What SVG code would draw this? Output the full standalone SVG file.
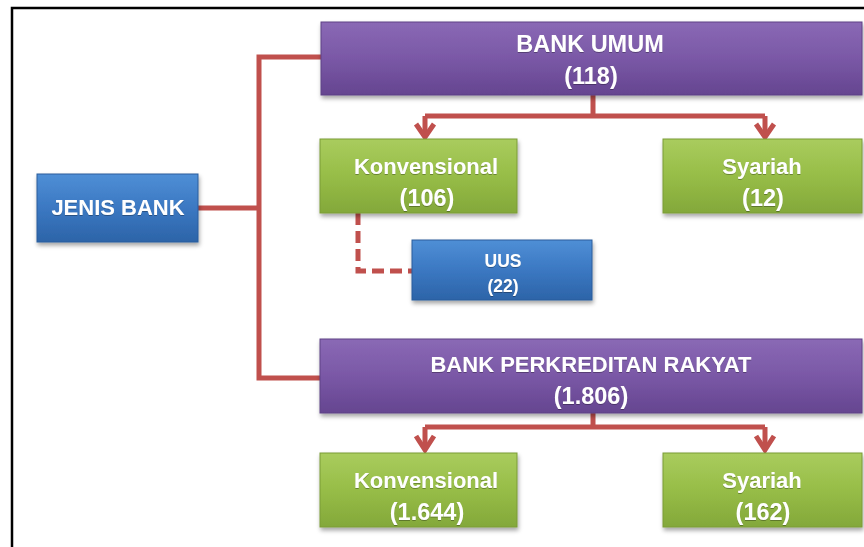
<svg xmlns="http://www.w3.org/2000/svg" width="864" height="547" viewBox="0 0 864 547">
<defs>
<linearGradient id="gPurple" x1="0" y1="0" x2="0" y2="1">
<stop offset="0" stop-color="#8a69b5"/><stop offset="0.5" stop-color="#7a58a6"/><stop offset="1" stop-color="#654590"/>
</linearGradient>
<linearGradient id="gGreen" x1="0" y1="0" x2="0" y2="1">
<stop offset="0" stop-color="#a9cc5e"/><stop offset="0.5" stop-color="#97bd47"/><stop offset="1" stop-color="#83a83a"/>
</linearGradient>
<linearGradient id="gBlue" x1="0" y1="0" x2="0" y2="1">
<stop offset="0" stop-color="#4f8fd6"/><stop offset="0.5" stop-color="#3b78c2"/><stop offset="1" stop-color="#2c64a8"/>
</linearGradient>
<filter id="sh" x="-5%" y="-10%" width="110%" height="130%">
<feDropShadow dx="1" dy="3" stdDeviation="2" flood-color="#000" flood-opacity="0.35"/>
</filter>
<filter id="tsh" x="-5%" y="-20%" width="110%" height="140%">
<feDropShadow dx="0" dy="1" stdDeviation="0.6" flood-color="#000" flood-opacity="0.3"/>
</filter>
</defs>
<style>
.purple{fill:url(#gPurple);stroke:#5e4285;stroke-width:1;filter:url(#sh)}
.green{fill:url(#gGreen);stroke:#7a9c36;stroke-width:1;filter:url(#sh)}
.blue{fill:url(#gBlue);stroke:#2a5d9c;stroke-width:1;filter:url(#sh)}
.t{font-family:"Liberation Sans",Arial,sans-serif;font-weight:bold;fill:#ffffff;text-anchor:middle;filter:url(#tsh)}
.big{font-size:22px}
.num{font-size:23.5px}
.small{font-size:17.5px}
.line{fill:none;stroke:#c0504d;stroke-width:5}
.dash{fill:none;stroke:#c0504d;stroke-width:5;stroke-dasharray:12,6}
.head{fill:none;stroke:#c0504d;stroke-width:5;stroke-linejoin:miter}
</style>
<rect x="0" y="0" width="864" height="547" fill="#ffffff"/>
<path d="M12,547 V8 H864" fill="none" stroke="#000" stroke-width="2.5"/>

<g id="connectors">
<path class="line" d="M198,208 H259 M321,57 H259 V378 H321"/>
<path class="line" d="M593,95 V116 M425,116 H765 M425,116 V136 M765,116 V136"/>
<path class="line" d="M593,413 V427 M425,427 H765 M425,427 V450 M765,427 V450"/>
<path class="head" d="M416,124 L425,137 L434,124 M756,124 L765,137 L774,124"/>
<path class="head" d="M416,436 L425,450 L434,436 M756,436 L765,450 L774,436"/>
<path class="dash" d="M358,213 V271 H412"/>
</g>

<g id="bank-umum">
<rect class="purple" x="321" y="22" width="541" height="73"/>
<text class="t num" x="590" y="52">BANK UMUM</text>
<text class="t num" x="591" y="84">(118)</text>
</g>
<g id="bu-konvensional">
<rect class="green" x="320" y="139" width="197" height="74"/>
<text class="t big" x="426" y="174">Konvensional</text>
<text class="t num" x="427" y="206">(106)</text>
</g>
<g id="bu-syariah">
<rect class="green" x="663" y="139" width="199" height="74"/>
<text class="t big" x="762" y="174">Syariah</text>
<text class="t num" x="763" y="206">(12)</text>
</g>
<g id="uus">
<rect class="blue" x="412" y="240" width="180" height="60"/>
<text class="t small" x="503" y="267">UUS</text>
<text class="t small" x="503" y="292">(22)</text>
</g>
<g id="jenis-bank">
<rect class="blue" x="37" y="174" width="161" height="68"/>
<text class="t big" x="118" y="215">JENIS BANK</text>
</g>
<g id="bpr">
<rect class="purple" x="320" y="339" width="542" height="74"/>
<text class="t big" x="591" y="372">BANK PERKREDITAN RAKYAT</text>
<text class="t num" x="591" y="404">(1.806)</text>
</g>
<g id="bpr-konvensional">
<rect class="green" x="320" y="453" width="197" height="74"/>
<text class="t big" x="426" y="488">Konvensional</text>
<text class="t num" x="427" y="520">(1.644)</text>
</g>
<g id="bpr-syariah">
<rect class="green" x="663" y="453" width="199" height="74"/>
<text class="t big" x="762" y="488">Syariah</text>
<text class="t num" x="763" y="520">(162)</text>
</g>
</svg>
